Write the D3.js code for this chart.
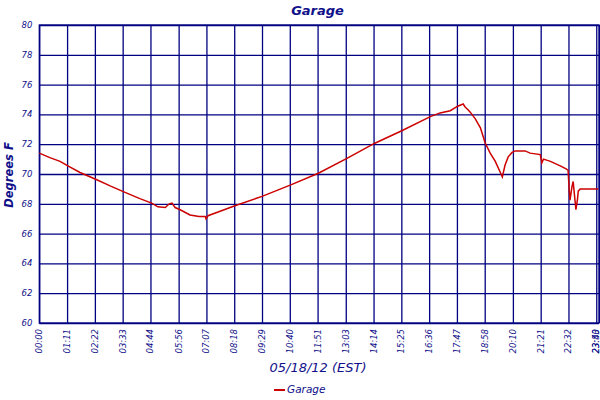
<!DOCTYPE html>
<html>
<head>
<meta charset="utf-8">
<script src="https://cdn.jsdelivr.net/npm/d3@7"></script>
<style>
  body { margin: 0; background: #fff; }
  text { font-family: "DejaVu Sans", sans-serif; fill: #10108a; font-style: oblique; }
</style>
</head>
<body>
<script>
// readings: time of day (HH:MM) and temperature
const times = ["00:00","00:27","00:53","01:13","01:44","02:24","03:01","03:36","04:17","04:47",
  "05:03","05:22","05:32","05:39","05:47","06:00","06:25","06:48","07:04","07:06","07:11","07:42",
  "08:18","09:29","10:41","11:53","13:06","14:16","15:26","16:39","17:04","17:30","17:49","18:03",
  "18:08","18:16","18:21","18:34","18:47","18:59","19:12","19:25","19:38","19:43","19:50","19:58",
  "20:08","20:16","20:41","20:54","21:20","21:24","21:28","21:46","22:11","22:26","22:31","22:34",
  "22:36","22:39","22:41","22:44","22:46","22:51","22:55","22:57","23:02","23:48"];
const temps = [71.4,71.1,70.85,70.55,70.1,69.65,69.2,68.8,68.35,68.05,
  67.8,67.75,68.0,68.05,67.75,67.6,67.25,67.15,67.15,67.0,67.2,67.5,
  67.85,68.5,69.25,70.05,71.05,72.05,72.9,73.85,74.1,74.25,74.55,74.7,
  74.5,74.3,74.15,73.7,73.1,72.1,71.4,70.85,70.1,69.8,70.6,71.15,
  71.45,71.55,71.55,71.4,71.3,70.75,71.0,70.85,70.55,70.35,70.25,68.9,
  68.25,68.8,69.15,69.5,68.95,67.6,68.3,68.85,69.0,69.0];

const xTicks = ["00:00","01:11","02:22","03:33","04:44","05:56","07:07","08:18","09:29","10:40",
  "11:51","13:03","14:14","15:25","16:36","17:47","18:58","20:10","21:21","22:32","23:43","23:50"];
const yTicks = [60,62,64,66,68,70,72,74,76,78,80];

const chartTitle = "Garage";
const xTitle = "05/18/12 (EST)";
const yTitle = "Degrees F";

const toMin = s => { const [h, m] = s.split(":"); return +h * 60 + +m; };

const w = 600, h = 400;
const margin = {top: 25, right: 1, bottom: 77, left: 39.3};
const innerW = w - margin.left - margin.right;
const innerH = h - margin.top - margin.bottom;

const svg = d3.select("body").append("svg")
  .attr("width", w)
  .attr("height", h);

const g = svg.append("g")
  .attr("transform", "translate(" + margin.left + "," + margin.top + ")");

const xScale = d3.scaleLinear().domain([0, toMin("23:50")]).range([0, innerW]);
const yScale = d3.scaleLinear().domain([60, 80]).range([innerH, 0]);

const navy = "#000080";

// grid, drawn through the axes
const xAxis = d3.axisBottom(xScale)
  .tickValues(xTicks.map(toMin))
  .tickSize(-innerH)
  .tickFormat((d, i) => xTicks[i]);
const yAxis = d3.axisLeft(yScale)
  .tickValues(yTicks)
  .tickSize(-innerW)
  .tickFormat(d => d);

const xAxisG = g.append("g")
  .attr("transform", "translate(0," + innerH + ")")
  .call(xAxis);
const yAxisG = g.append("g").call(yAxis);

[xAxisG, yAxisG].forEach(a => {
  a.select(".domain").remove();
  a.selectAll(".tick line").attr("stroke", navy).attr("stroke-width", 1.3);
  a.selectAll(".tick text").attr("fill", "#10108a").style("font-size", "8.5px");
});

// rotated tick labels; keep the last ones inside the page edge
xAxisG.selectAll(".tick text")
  .attr("text-anchor", "end")
  .attr("dy", null)
  .attr("y", null)
  .attr("transform", d => {
    const shift = Math.min(2.5, w - 2 - margin.left - xScale(d));
    return "translate(" + shift + ",6) rotate(-90)";
  });

yAxisG.selectAll(".tick text")
  .attr("x", -7)
  .attr("dy", "0.3em");

// outer frame
g.append("rect")
  .attr("width", innerW)
  .attr("height", innerH)
  .attr("fill", "none")
  .attr("stroke", navy)
  .attr("stroke-width", 1.3);

// the temperature line
const line = d3.line()
  .x((d, i) => xScale(toMin(times[i])))
  .y(d => yScale(d));

g.append("path")
  .datum(temps)
  .attr("fill", "none")
  .attr("stroke", "#cc0000")
  .attr("stroke-width", 1.5)
  .attr("d", line);

// titles
svg.append("text")
  .attr("x", 317.5).attr("y", 15)
  .attr("text-anchor", "middle")
  .style("font-size", "13px").style("font-weight", "bold")
  .text(chartTitle);

svg.append("text")
  .attr("x", 318).attr("y", 372)
  .attr("text-anchor", "middle")
  .style("font-size", "13px")
  .text(xTitle);

svg.append("text")
  .attr("transform", "translate(12.5,175) rotate(-90)")
  .attr("text-anchor", "middle")
  .style("font-size", "11.5px").style("font-weight", "bold")
  .text(yTitle);

// legend
svg.append("line")
  .attr("x1", 274).attr("x2", 285)
  .attr("y1", 390).attr("y2", 390)
  .attr("stroke", "#cc0000").attr("stroke-width", 2);
svg.append("text")
  .attr("x", 287).attr("y", 393)
  .style("font-size", "10.5px")
  .text(chartTitle);
</script>
</body>
</html>
